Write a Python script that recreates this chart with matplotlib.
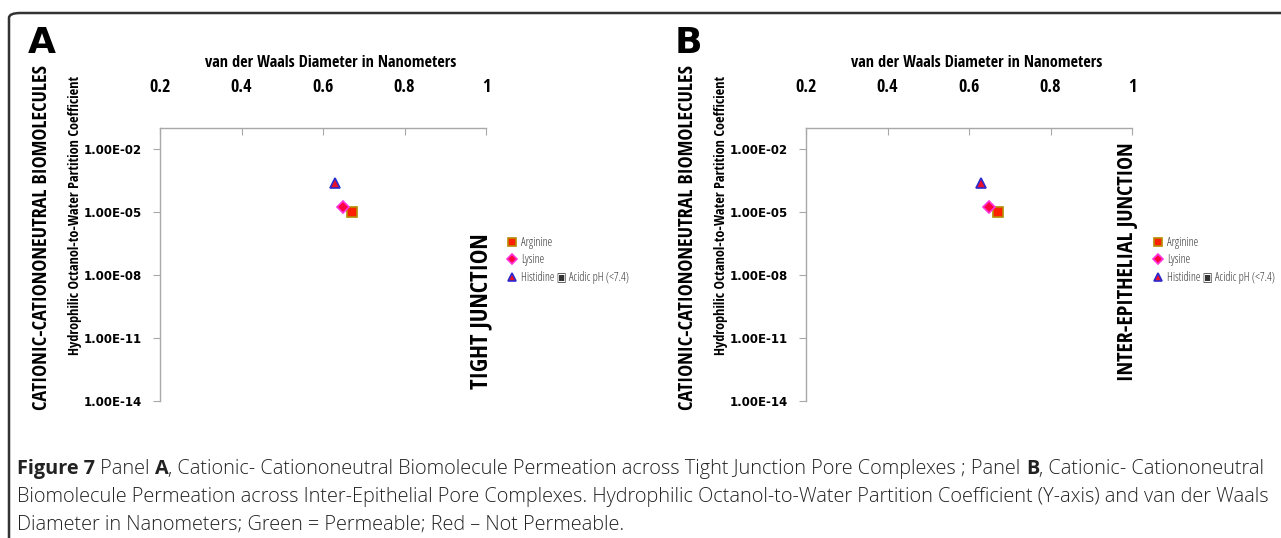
import numpy as np
import matplotlib
matplotlib.use('Agg')
import matplotlib.pyplot as plt
from matplotlib.patches import FancyBboxPatch

# data
molecules = ['Arginine', 'Lysine', 'Histidine \u25a3 Acidic pH (<7.4)']
diameter_nm = [0.67, 0.65, 0.63]
partition_coef = [1.0e-5, 1.7e-5, 2.4e-4]
x_ticks = [0.2, 0.4, 0.6, 0.8, 1.0]
x_tick_labels = ['0.2', '0.4', '0.6', '0.8', '1']
y_ticks = [1e-14, 1e-11, 1e-8, 1e-5, 1e-2]
y_tick_labels = ['1.00E-14', '1.00E-11', '1.00E-08', '1.00E-05', '1.00E-02']

markers = ['s', 'D', '^']
fills = ['#ff2000', '#ff0040', '#e8102a']
edges = ['#b88a00', '#ff33dd', '#2a2ad0']
sizes = [7, 6.5, 7.5]

W, H = 1281, 538
fig = plt.figure(figsize=(W / 100, H / 100), dpi=100)
fig.patch.set_facecolor('white')
renderer = fig.canvas.get_renderer()

COND = ['Open Sans Condensed', 'Open Sans', 'DejaVu Sans']
LIGHTC = ['Open Sans', 'DejaVu Sans']


def fx(px):
    return px / W


def fy(py):
    return 1 - py / H


def fit_text(x, y, s, length, rotation=0, **kw):
    # place a text and scale its size so it spans the given pixel length
    t = fig.text(fx(x), fy(y), s, ha='center', va='center',
                 rotation=rotation, **kw)
    bb = t.get_window_extent(renderer)
    cur = bb.height if rotation else bb.width
    t.set_fontsize(t.get_fontsize() * length / cur)
    return t


# frame round the figure (top and left edges visible)
frame = FancyBboxPatch((fx(9), fy(600)), fx(1400), (600 - 13) / H,
                       boxstyle='round,pad=0,rounding_size=0.009',
                       transform=fig.transFigure, fill=False,
                       edgecolor='#333333', linewidth=1.8, clip_on=False)
fig.patches.append(frame)

panels = [
    dict(letter='A', off=0, side='TIGHT JUNCTION', side_y=311, side_len=156),
    dict(letter='B', off=646, side='INTER-EPITHELIAL JUNCTION', side_y=262, side_len=240),
]

for p in panels:
    o = p['off']
    ax = fig.add_axes([fx(160 + o), fy(401), fx(326), (401 - 128) / H])
    ax.set_yscale('log')
    ax.set_xlim(0.2, 1.0)
    ax.set_ylim(1e-14, 1e-1)
    for i in range(len(molecules)):
        ax.plot(diameter_nm[i], partition_coef[i], linestyle='none',
                marker=markers[i], markersize=sizes[i],
                markerfacecolor=fills[i], markeredgecolor=edges[i],
                markeredgewidth=1.2, label=molecules[i])

    ax.spines['right'].set_visible(False)
    ax.spines['bottom'].set_visible(False)
    for s in ['left', 'top']:
        ax.spines[s].set_color('#a8a8a8')
        ax.spines[s].set_linewidth(1.0)
    ax.xaxis.tick_top()
    ax.set_xticks(x_ticks)
    ax.set_xticklabels(x_tick_labels, fontsize=13, fontweight='bold',
                       family=COND, fontstretch='condensed')
    ax.tick_params(axis='x', direction='in', length=5, color='#a8a8a8', pad=23)
    ax.set_yticks(y_ticks)
    ax.set_yticklabels(y_tick_labels, fontsize=8.5, fontweight='bold')
    ax.yaxis.set_minor_locator(matplotlib.ticker.NullLocator())
    ax.tick_params(axis='y', direction='out', length=5, color='#a8a8a8', pad=8)

    fit_text(331 + o, 63, 'van der Waals Diameter in Nanometers', 251,
             fontsize=11, fontweight='bold', fontstretch='condensed', family=COND)
    fit_text(75 + o, 215, 'Hydrophilic Octanol-to-Water Partition Coefficient', 280,
             rotation=90, fontsize=10, fontweight='bold', fontstretch='condensed',
             family=COND)
    fit_text(42 + o, 238, 'CATIONIC-CATIONONEUTRAL BIOMOLECULES', 345,
             rotation=90, fontsize=14, fontweight='bold', fontstretch='condensed',
             family=COND)
    fig.text(fx(42 + o), fy(43), p['letter'], ha='center', va='center',
             fontsize=26, fontweight='bold', family=['DejaVu Sans'])
    fit_text(481 + o, p['side_y'], p['side'], p['side_len'], rotation=90,
             fontsize=14, fontweight='bold', fontstretch='condensed', family=COND)

    ax.legend(loc='upper left', bbox_to_anchor=(fx(506 + o), fy(236)),
              bbox_transform=fig.transFigure, frameon=False,
              prop={'family': LIGHTC, 'size': 8.5, 'weight': 'light',
                    'stretch': 'condensed'},
              labelcolor='#333333', handletextpad=0.3, handlelength=1.0,
              labelspacing=0.38, borderaxespad=0, borderpad=0, markerscale=0.8)

# caption with bold pieces, sized so the first line spans the box width
CAP = ['Open Sans', 'DejaVu Sans']
lines = [
    [('Figure 7', True), (' Panel ', False), ('A', True),
     (', Cationic- Cationoneutral Biomolecule Permeation across Tight Junction Pore Complexes ; Panel ', False),
     ('B', True), (', Cationic- Cationoneutral', False)],
    [('Biomolecule Permeation across Inter-Epithelial Pore Complexes. Hydrophilic Octanol-to-Water Partition Coefficient (Y-axis) and van der Waals', False)],
    [('Diameter in Nanometers; Green = Permeable; Red \u2013 Not Permeable.', False)],
]
line_y = [469, 497, 525]


def piece_kw(bold, size):
    return dict(fontsize=size, family=CAP, color='#222222',
                fontweight='bold' if bold else 'light',
                fontstretch='normal', ha='left', va='center')


trial = 12
total = 0
for txt, bold in lines[0]:
    t = fig.text(0, 0, txt, **piece_kw(bold, trial))
    total += t.get_window_extent(renderer).width
    t.remove()
cap_size = trial * 1246 / total

for parts, yy in zip(lines, line_y):
    xpix = 17
    for txt, bold in parts:
        t = fig.text(fx(xpix), fy(yy), txt, **piece_kw(bold, cap_size))
        xpix += t.get_window_extent(renderer).width

fig.savefig('out.png', dpi=100, facecolor='white')
